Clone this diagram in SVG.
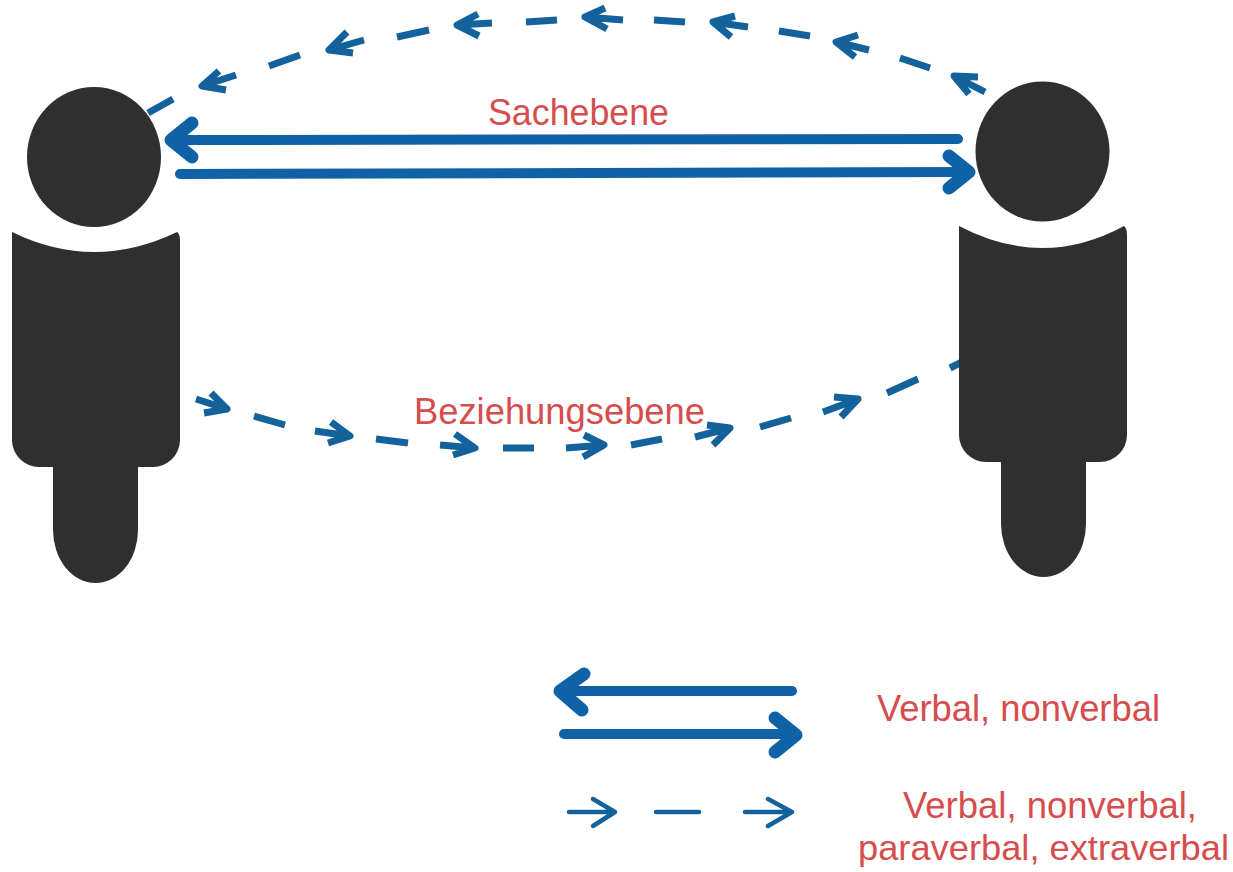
<svg xmlns="http://www.w3.org/2000/svg" width="1233" height="872" viewBox="0 0 1233 872">
<style>
.person{fill:#2f2f2f}
.solid{fill:none;stroke:#0f62a6;stroke-width:10;stroke-linecap:round;stroke-linejoin:round}
.solid .hd{stroke-width:13}
.dash{fill:none;stroke:#14629b;stroke-width:7;stroke-linecap:butt;stroke-linejoin:round}
.thin{fill:none;stroke:#14629b;stroke-width:4.500;stroke-linecap:round;stroke-linejoin:round}
text{font-family:"Liberation Sans",Arial,sans-serif;font-size:37px;fill:#d64d4d}
</style>
<rect width="1233" height="872" fill="#ffffff"/>
<g id="connectors">
<g id="top-dashed" class="dash">
<path d="M148 113L173 99"/>
<path d="M236 75L202 86M219 71L202 86L226 90"/>
<path d="M269 66L300 55"/>
<path d="M364 40L329 50M347 32L329 50L353 53"/>
<path d="M397 37L429 30"/>
<path d="M492 23L457 25M478 14L457 25L479 36"/>
<path d="M526 22L557 20"/>
<path d="M623 20L585 17M605 8L585 17L607 29"/>
<path d="M654 20L685 22"/>
<path d="M748 27L713 22M735 16L713 22L731 37"/>
<path d="M779 31L810 36"/>
<path d="M869 50L836 42M858 35L836 42L855 57"/>
<path d="M900 58L930 68"/>
<path d="M985 92L954 76M978 77L954 76L969 94"/>
</g>
<g id="bottom-dashed" class="dash">
<path d="M196 399L227 409M211 393L227 409L204 413"/>
<path d="M254 416L285 425"/>
<path d="M315 431L350 436M331 422L350 436L328 443"/>
<path d="M376 439L408 443"/>
<path d="M440 445L475 448M455 434L475 448L453 455"/>
<path d="M503 448L534 448"/>
<path d="M566 448L604 445M584 435L604 445L583 457"/>
<path d="M631 445L662 439"/>
<path d="M695 437L730 428M707 425L730 428L713 445"/>
<path d="M760 427L791 418"/>
<path d="M823 412L858 399M834 397L858 399L841 417"/>
<path d="M887 393L918 379"/>
<path d="M950 368L970 358"/>
</g>
<g id="solid-arrows" class="solid">
<path d="M958 139L172 140"/>
<path class="hd" d="M192 123L171 140L192 157"/>
<path d="M180 174L968 172"/>
<path class="hd" d="M949 156L969 172L949 188"/>
</g>
<g id="legend-arrows">
<g class="solid">
<path d="M792 691L562 691"/>
<path class="hd" d="M584 674L560 691L582 710"/>
<path d="M564 734L793 734"/>
<path class="hd" d="M775 718L796 735L775 752"/>
</g>
<g class="thin">
<path d="M569 812L615 812M593 799L615 812L593 826"/>
<path d="M656 812L699 812"/>
<path d="M745 812L792 812M768 799L792 812L768 826"/>
</g>
</g>
</g>
<g id="person-left">
<ellipse class="person" cx="94" cy="157" rx="67" ry="70"/>
<path class="person" d="M12 232Q94 272 177 232Q180 234 180 240V440A27 27 0 0 1 153 467H138V530A42.500 53 0 0 1 53 530V467H39A27 27 0 0 1 12 440Z"/>
</g>
<g id="person-right">
<ellipse class="person" cx="1042.500" cy="151.500" rx="67" ry="70"/>
<path class="person" d="M959 226Q1043 270 1124 226Q1127 228 1127 236V435A27 27 0 0 1 1100 462H1086V524A42.500 53 0 0 1 1001 524V462H986A27 27 0 0 1 959 435Z"/>
</g>
<g id="label-sachebene"><text x="488" y="125" textLength="181" lengthAdjust="spacingAndGlyphs">Sachebene</text></g>
<g id="label-beziehungsebene"><text x="414" y="424" textLength="291" lengthAdjust="spacingAndGlyphs">Beziehungsebene</text></g>
<g id="legend-verbal"><text x="877" y="721" textLength="283" lengthAdjust="spacingAndGlyphs">Verbal, nonverbal</text></g>
<g id="legend-extended">
<text x="903" y="818" textLength="294" lengthAdjust="spacingAndGlyphs">Verbal, nonverbal,</text>
<text x="858" y="860" font-size="35" style="font-size:35px" textLength="371" lengthAdjust="spacingAndGlyphs">paraverbal, extraverbal</text>
</g>
</svg>
